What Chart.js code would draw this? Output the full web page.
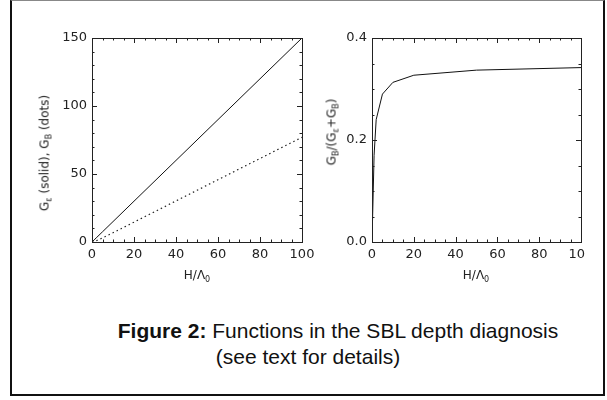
<!DOCTYPE html>
<html>
<head>
<meta charset="utf-8">
<script src="https://cdn.jsdelivr.net/npm/chart.js@4.4.0/dist/chart.umd.min.js"></script>
<style>
  body { margin: 0; width: 607px; height: 400px; background: #fff; position: relative; overflow: hidden; }
  #frame { position: absolute; left: 10px; top: 0; width: 591px; height: 393px;
           border-left: 2px solid #111; border-right: 2px solid #111;
           border-bottom: 2px solid #111; border-top: 1px solid #888; }
  canvas { position: absolute; }
  .ttl { position: absolute; font-family: "DejaVu Sans", sans-serif; font-size: 12px; color: #222;
         white-space: nowrap; transform: translate(-50%, -50%); line-height: 1; }
  .rot { transform: translate(-50%, -50%) rotate(-90deg); }
  .ttl sub { font-size: 8px; vertical-align: -3px; }
  .cap { position: absolute; font-family: "Liberation Sans", Arial, sans-serif; font-size: 21px; color: #111;
         white-space: nowrap; transform: translateX(-50%); line-height: 1; }
</style>
</head>
<body>
<div id="frame"></div>
<canvas id="left" width="320" height="300" style="left:0;top:0"></canvas>
<canvas id="right" width="276" height="300" style="left:310px;top:0"></canvas>

<div class="ttl rot" style="left:46px;top:153px">G<sub>ε</sub> (solid), G<sub>B</sub> (dots)</div>
<div class="ttl" style="left:197px;top:276px">H/Λ<sub>0</sub></div>
<div class="ttl rot" style="left:333px;top:132px">G<sub>B</sub>/(G<sub>ε</sub>+G<sub>B</sub>)</div>
<div class="ttl" style="left:476px;top:276px">H/Λ<sub>0</sub></div>

<div class="cap" style="left:338px;top:320px"><b>Figure 2:</b> Functions in the SBL depth diagnosis</div>
<div class="cap" style="left:308px;top:346px">(see text for details)</div>

<script>
// H / Lambda_0 sample points
const hValues = [0, 1, 2, 5, 10, 20, 50, 100];
// left panel: G_eps (solid) and G_B (dots)
const gEps = [0, 1.5, 3, 7.5, 15, 30, 75, 150];
const gB = [0, 0.3, 0.9, 3, 6.8, 14.6, 38, 77];
// right panel: G_B / (G_eps + G_B)
const ratio = [0, 0.17, 0.24, 0.29, 0.313, 0.327, 0.337, 0.342];

const xTicks = [0, 20, 40, 60, 80, 100];
const leftYTicks = [0, 50, 100, 150];
const rightYTicks = [0, 0.2, 0.4];

const pts = (ys) => hValues.map((h, i) => ({ x: h, y: ys[i] }));

// box round the plot + inward ticks on all four sides
const idlFrame = {
  id: 'idlFrame',
  afterDraw(chart, args, opts) {
    const { ctx, chartArea: a, scales } = chart;
    ctx.save();
    ctx.strokeStyle = '#222';
    ctx.lineWidth = 1;
    ctx.strokeRect(Math.round(a.left) + 0.5, Math.round(a.top) + 0.5,
                   Math.round(a.right - a.left), Math.round(a.bottom - a.top));
    const tick = (scale, step, per, horiz) => {
      const n = Math.round((scale.max - scale.min) / step);
      for (let i = 0; i <= n; i++) {
        const p = Math.round(scale.getPixelForValue(scale.min + i * step)) + 0.5;
        const len = i % per === 0 ? 5 : 2.5;
        ctx.beginPath();
        if (horiz) {
          ctx.moveTo(p, a.bottom); ctx.lineTo(p, a.bottom - len);
          ctx.moveTo(p, a.top); ctx.lineTo(p, a.top + len);
        } else {
          ctx.moveTo(a.left, p); ctx.lineTo(a.left + len, p);
          ctx.moveTo(a.right, p); ctx.lineTo(a.right - len, p);
        }
        ctx.stroke();
      }
    };
    tick(scales.x, opts.xMinor, opts.xPer, true);
    tick(scales.y, opts.yMinor, opts.yPer, false);
    ctx.restore();
  }
};

const tickFont = { family: 'DejaVu Sans', size: 13 };

const makeChart = (id, datasets, yMax, yTicks, yWidth, rightPad, minor) =>
  new Chart(document.getElementById(id), {
    type: 'line',
    data: { datasets },
    options: {
      responsive: false,
      animation: false,
      layout: { padding: { top: 38, left: 0, right: rightPad, bottom: 28 } },
      plugins: { legend: { display: false }, tooltip: { enabled: false }, idlFrame: minor },
      elements: { point: { radius: 0 }, line: { tension: 0 } },
      scales: {
        x: {
          type: 'linear', min: 0, max: 100,
          grid: { display: false, drawTicks: false }, border: { display: false },
          afterBuildTicks: (s) => { s.ticks = xTicks.map((v) => ({ value: v })); },
          afterFit: (s) => { s.height = 30; s.paddingLeft = 0; s.paddingRight = 0; },
          ticks: { color: '#222', font: tickFont, padding: 5, maxRotation: 0 }
        },
        y: {
          type: 'linear', min: 0, max: yMax,
          grid: { display: false, drawTicks: false }, border: { display: false },
          afterBuildTicks: (s) => { s.ticks = yTicks.map((v) => ({ value: v })); },
          afterFit: (s) => { s.width = yWidth; },
          ticks: {
            color: '#222', font: tickFont, padding: 5,
            callback: (v) => (yMax < 1 ? v.toFixed(1) : v)
          }
        }
      }
    },
    plugins: [idlFrame]
  });

makeChart('left', [
  { data: pts(gEps), borderColor: '#111', borderWidth: 1 },
  { data: pts(gB), borderColor: '#222', borderWidth: 1.2, borderDash: [1.5, 3] }
], 150, leftYTicks, 92, 18, { xMinor: 5, xPer: 4, yMinor: 10, yPer: 5 });

makeChart('right', [
  { data: pts(ratio), borderColor: '#111', borderWidth: 1 }
], 0.4, rightYTicks, 62, 5, { xMinor: 5, xPer: 4, yMinor: 0.05, yPer: 4 });
</script>
</body>
</html>
